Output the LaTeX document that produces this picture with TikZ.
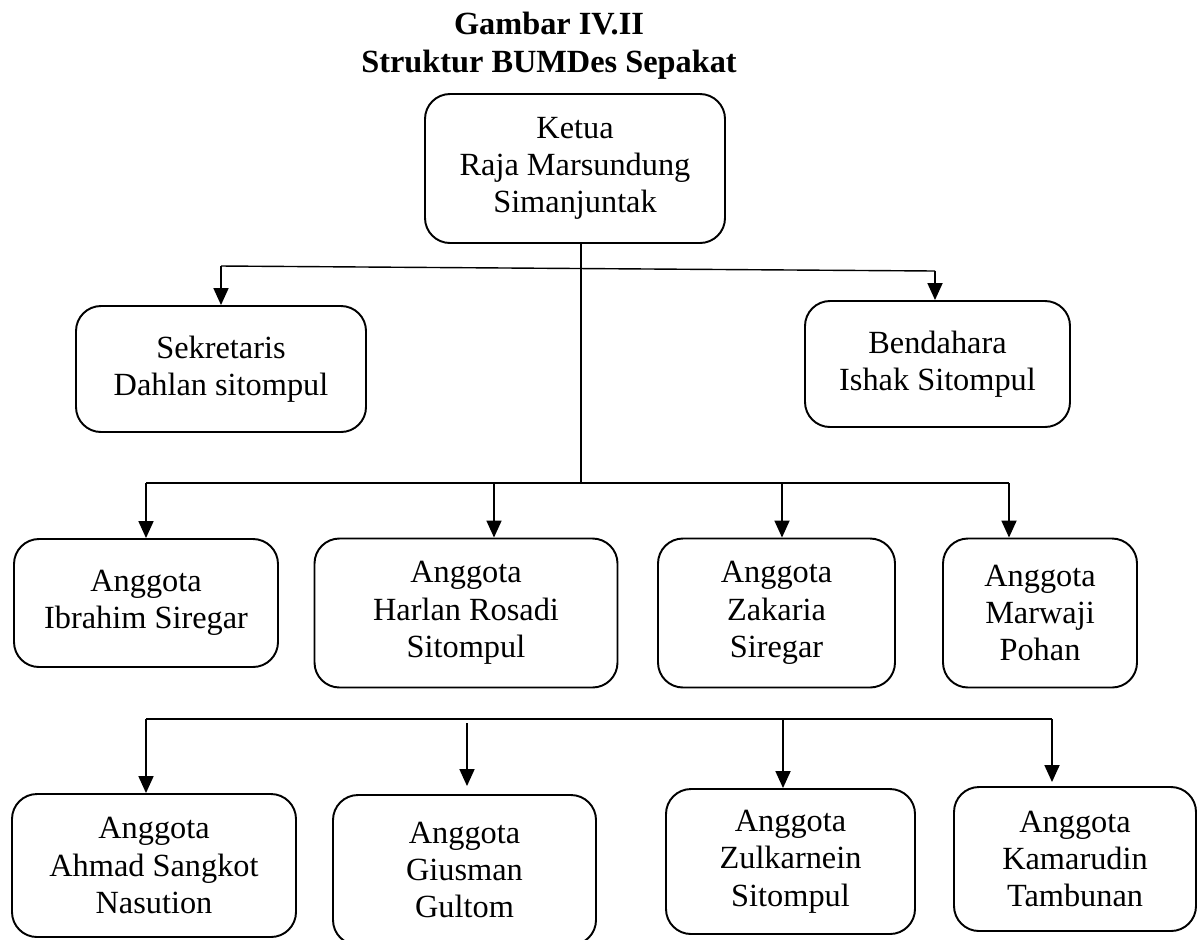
\documentclass[tikz,border=0pt]{standalone}
\usepackage{fontspec}
\setmainfont{Liberation Serif}
\usetikzlibrary{arrows.meta}

\begin{document}
\begin{tikzpicture}[
		member/.style={draw, rectangle, rounded corners=0.5cm, line width=1.1pt, align=center, inner sep=0pt,
			font=\fontsize{18.4}{21.2}\selectfont},
		arrow/.style={-{Triangle[length=0.34cm, width=0.3cm]}, line width=1pt},
		bus/.style={line width=0.8pt}
	]
	\useasboundingbox (0,0) rectangle (24,-18.78);

	% Title
	\node[align=center, font=\fontsize{18.4}{21.5}\selectfont\bfseries] (title) at (10.98,-0.92) {Gambar IV.II\\Struktur BUMDes Sepakat};

	% Ketua
	\node[member, minimum width=6cm, minimum height=2.98cm] (ketua) at (11.5,-3.37) {Ketua\\Raja Marsundung\\Simanjuntak};

	% Sekretaris and Bendahara
	\node[member, minimum width=5.8cm, minimum height=2.52cm] (sekretaris) at (4.42,-7.38) {Sekretaris\\Dahlan sitompul};
	\node[member, minimum width=5.3cm, minimum height=2.52cm] (bendahara) at (18.75,-7.28) {Bendahara\\Ishak Sitompul};
	\coordinate (b1l) at (4.42,-5.32);
	\coordinate (b1r) at (18.7,-5.42);
	\draw[bus] (b1l) -- (b1r);
	\draw[arrow] (b1l) -- (sekretaris.north);
	\draw[arrow] (b1r) -- (b1r |- bendahara.north);

	% Anggota, first row
	\node[member, minimum width=5.28cm, minimum height=2.56cm] (ibrahim) at (2.92,-12.06) {Anggota\\Ibrahim Siregar};
	\node[member, minimum width=6.06cm, minimum height=2.98cm] (harlan) at (9.32,-12.26) {Anggota\\Harlan Rosadi\\Sitompul};
	\node[member, minimum width=4.74cm, minimum height=2.98cm] (zakaria) at (15.53,-12.26) {Anggota\\Zakaria\\Siregar};
	\node[member, minimum width=3.88cm, minimum height=2.98cm] (marwaji) at (20.8,-12.26) {Anggota\\Marwaji\\Pohan};
	\coordinate (b2c) at (11.62,-9.66);
	\coordinate (b2a) at (2.92,-9.66);
	\coordinate (b2b) at (9.88,-9.66);
	\coordinate (b2d) at (15.64,-9.66);
	\coordinate (b2e) at (20.18,-9.66);
	\draw[bus] ([xshift=0.12cm]ketua.south) -- (b2c);
	\draw[bus] (b2a) -- (b2e);
	\draw[arrow] (b2a) -- (ibrahim.north);
	\draw[arrow] (b2b) -- (b2b |- harlan.north);
	\draw[arrow] (b2d) -- (b2d |- zakaria.north);
	\draw[arrow] (b2e) -- (b2e |- marwaji.north);

	% Anggota, second row
	\node[member, minimum width=5.68cm, minimum height=2.86cm] (ahmad) at (3.08,-17.31) {Anggota\\Ahmad Sangkot\\Nasution};
	\node[member, minimum width=5.26cm, minimum height=3cm] (giusman) at (9.29,-17.4) {Anggota\\Giusman\\Gultom};
	\node[member, minimum width=4.98cm, minimum height=2.9cm] (zulkarnein) at (15.81,-17.23) {Anggota\\Zulkarnein\\Sitompul};
	\node[member, minimum width=4.84cm, minimum height=2.88cm] (kamarudin) at (21.5,-17.18) {Anggota\\Kamarudin\\Tambunan};
	\coordinate (b3a) at (2.92,-14.38);
	\coordinate (b3b) at (9.34,-14.46);
	\coordinate (b3c) at (15.66,-14.38);
	\coordinate (b3d) at (21.04,-14.38);
	\draw[bus] (b3a) -- (b3d);
	\draw[arrow] (b3a) -- (b3a |- ahmad.north);
	\draw[arrow, shorten >=0.16cm] (b3b) -- (b3b |- giusman.north);
	\draw[arrow] (b3c) -- (b3c |- zulkarnein.north);
	\draw[arrow, shorten >=0.08cm] (b3d) -- (b3d |- kamarudin.north);
\end{tikzpicture}
\end{document}
